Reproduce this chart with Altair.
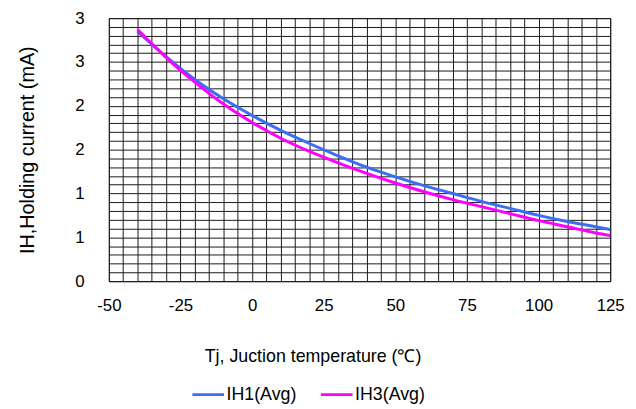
import altair as alt
import pandas as pd

temps = [-40, -30, -20, -10, 0, 10, 20, 30, 40, 50, 60, 70, 80, 90, 100, 110, 120, 125]
ih1 = [2.85, 2.56, 2.30, 2.08, 1.89, 1.72, 1.57, 1.43, 1.30, 1.19, 1.09, 1.00, 0.91, 0.83, 0.75, 0.68, 0.62, 0.59]
ih3 = [2.87, 2.55, 2.27, 2.02, 1.81, 1.63, 1.48, 1.35, 1.23, 1.12, 1.02, 0.93, 0.85, 0.77, 0.69, 0.62, 0.55, 0.52]
series = ["IH1(Avg)", "IH3(Avg)"]
colors = ["#3A6EF5", "#FF00FF"]

x_grid = list(range(-50, 126, 5))
y_grid = [round(i / 10, 1) for i in range(31)]

rows = []
for name, vals in zip(series, [ih1, ih3]):
    for t, v in zip(temps, vals):
        rows.append({"Tj": t, "IH": v, "series": name})
df = pd.DataFrame(rows)

FONT = "Liberation Sans"

chart = alt.Chart(df).mark_line(strokeWidth=3, interpolate="monotone").encode(
    x=alt.X("Tj:Q",
            scale=alt.Scale(domain=[-50, 125], nice=False, zero=False),
            axis=alt.Axis(values=x_grid, grid=True, ticks=False, domain=False,
                          labelExpr="datum.value % 25 == 0 ? datum.value : ''",
                          labelPadding=17, labelFontSize=17, labelColor="#000",
                          labelFont=FONT, labelFlush=False, labelOverlap=False,
                          title="Tj, Juction temperature (℃)", titleFontSize=18,
                          titleFont=FONT, titleFontWeight="normal", titleColor="#000",
                          titleX=206, titleY=67)),
    y=alt.Y("IH:Q",
            scale=alt.Scale(domain=[0, 3], nice=False),
            axis=alt.Axis(values=y_grid, grid=True, ticks=False, domain=False,
                          labelExpr="(round(datum.value*10) % 5 == 0) ? round(datum.value) : ''",
                          labelPadding=25, labelFontSize=17, labelColor="#000",
                          labelFont=FONT, labelOverlap=False, labelFlush=False,
                          title="IH,Holding current (mA)", titleFontSize=20,
                          titleFont=FONT, titleFontWeight="normal", titleColor="#000",
                          titlePadding=38)),
    color=alt.Color("series:N",
                    scale=alt.Scale(domain=series, range=colors),
                    legend=alt.Legend(orient="none", legendX=83, legendY=363,
                                      direction="horizontal", title=None,
                                      symbolType="stroke", symbolSize=1024,
                                      symbolStrokeWidth=3, labelFontSize=18,
                                      labelFont=FONT, labelColor="#000",
                                      labelOffset=1, columnPadding=18)),
).properties(
    width=507,
    height=266,
    autosize=alt.AutoSizeParams(type="none"),
    padding={"left": 102, "top": 8, "right": 18, "bottom": 124},
).configure_axis(
    gridColor="#1a1a1a", gridOpacity=1, gridWidth=1,
).configure_view(
    stroke="#1a1a1a", strokeWidth=1,
)

chart.save("out.html", embed_options={"renderer": "svg", "actions": False})
